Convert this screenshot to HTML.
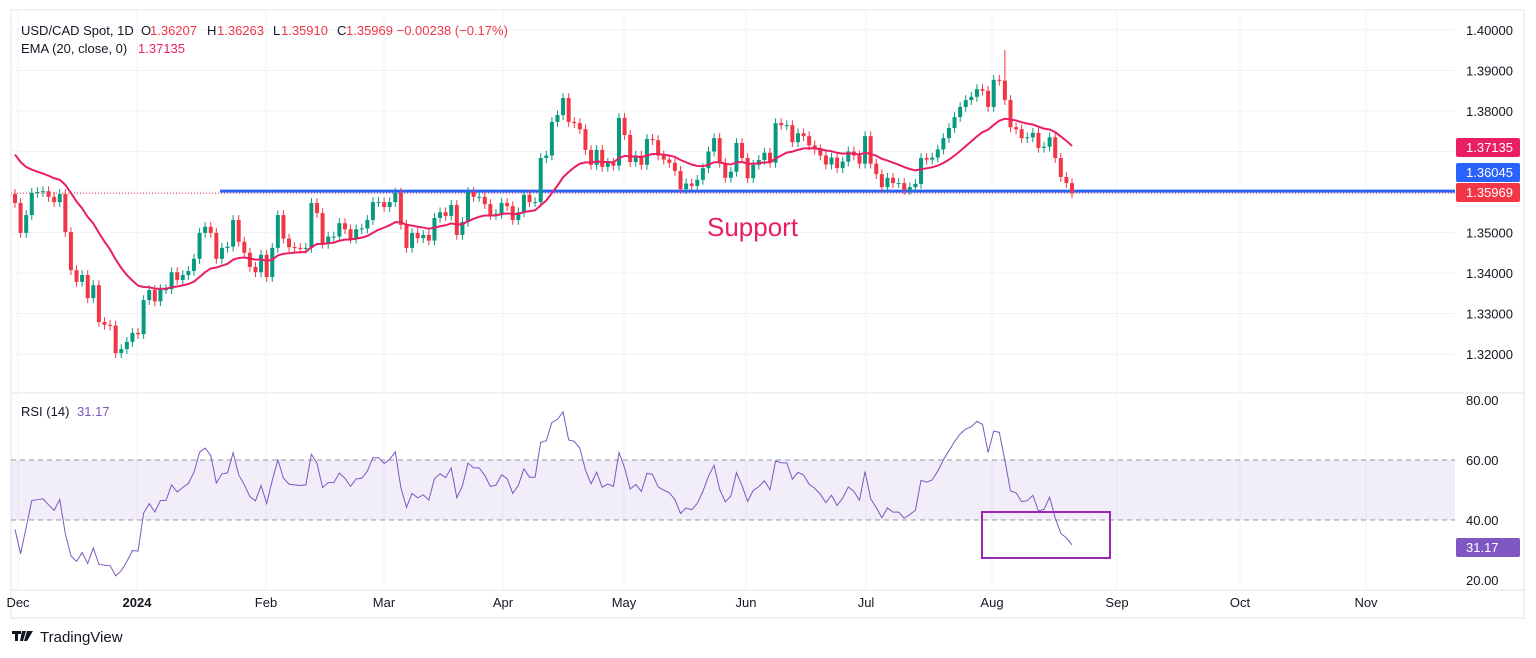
<!DOCTYPE html>
<html><head><meta charset="utf-8"><style>
body{margin:0;background:#fff;font-family:"Liberation Sans",sans-serif}
svg{display:block}
</style></head><body>
<svg id="c" width="1536" height="658" xmlns="http://www.w3.org/2000/svg"></svg>
<script>
const closes=[1.3573,1.3499,1.3543,1.3598,1.3600,1.3602,1.3588,1.3575,1.3595,1.3501,
1.3407,1.3378,1.3395,1.3338,1.3370,1.3279,1.3272,1.3270,1.3202,1.3212,
1.3230,1.3252,1.3249,1.3333,1.3358,1.3330,1.3360,1.3360,1.3402,1.3383,
1.3395,1.3405,1.3435,1.3499,1.3514,1.3499,1.3435,1.3462,1.3465,1.3531,
1.3477,1.3450,1.3415,1.3402,1.3445,1.3390,1.3462,1.3543,1.3485,1.3464,
1.3462,1.3460,1.3462,1.3573,1.3548,1.3472,1.3490,1.3490,1.3523,1.3508,
1.3485,1.3508,1.3510,1.3531,1.3575,1.3575,
1.3563,1.3575,1.3598,1.3519,1.3462,1.3499,1.3486,1.3494,1.3480,1.3536,
1.3550,1.3541,1.3568,1.3494,1.3526,1.3600,1.3588,1.3588,1.3570,1.3543,
1.3546,1.3573,1.3565,1.3531,1.3550,1.3593,1.3575,1.3575,1.3684,1.3690,
1.3773,1.3790,1.3832,1.3773,1.3770,1.3755,1.3704,1.3667,1.3704,1.3662,
1.3672,1.3665,1.3783,1.3741,1.3674,1.3690,1.3667,1.3731,1.3728,1.3690,
1.3680,1.3672,1.3652,1.3607,1.3621,1.3615,1.3630,1.3659,1.3700,1.3733,
1.3672,1.3635,1.3650,1.3721,1.3684,1.3634,1.3667,1.3679,1.3697,1.3672,1.3770,
1.3765,1.3765,1.3723,1.3745,1.3738,1.3715,1.3705,1.3690,1.3668,1.3685,
1.3659,1.3675,1.3700,1.3690,1.3670,1.3738,1.3670,1.3644,1.3612,1.3635,
1.3622,1.3622,1.3605,1.3612,1.3620,1.3684,1.3680,1.3685,1.3705,1.3733,
1.3758,1.3785,1.3810,1.3827,1.3835,1.3854,1.3850,1.3810,1.3877,1.3875,
1.3827,1.3760,1.3755,1.3733,1.3735,1.3746,1.3709,1.3712,1.3735,1.3684,
1.3637,1.3622,1.3597];
const firstOpen=1.3595;
const spikeHigh={index:177,value:1.3951};
const priceTicks=["1.40000","1.39000","1.38000","1.37000","1.36000","1.35000","1.34000","1.33000","1.32000"];
const rsiTicks=["80.00","60.00","40.00","20.00"];
const monthLabels=["Dec","2024","Feb","Mar","Apr","May","Jun","Jul","Aug","Sep","Oct","Nov"];
const monthX=[18,137,266,384,503,624,746,866,992,1117,1240,1366];
const emaSeed=1.3705, supportLevel=1.36045, emaLast=1.37135, lastClose=1.35969, rsiLast=31.17;

const NS="http://www.w3.org/2000/svg",svg=document.getElementById('c');
function el(t,a,p){const e=document.createElementNS(NS,t);for(const k in a)e.setAttribute(k,a[k]);(p||svg).appendChild(e);return e;}
const yP=p=>30+(1.40-p)*4050;
const yR=v=>400+(80-v)*3;
const n=closes.length,x0=15,x1=1072,step=(x1-x0)/(n-1);
const xI=i=>x0+i*step;
const L=11,R=1455;
const fr=el('rect',{x:11,y:10,width:1513,height:608,fill:'none',stroke:'#e0e3eb'});


el('line',{x1:L,x2:1524,y1:393,y2:393,stroke:'#e0e3eb'});
el('line',{x1:L,x2:1524,y1:590,y2:590,stroke:'#e0e3eb'});
monthX.forEach(x=>{el('line',{x1:x,x2:x,y1:10,y2:393,stroke:'#f0f3fa'});el('line',{x1:x,x2:x,y1:393,y2:590,stroke:'#f0f3fa'});});
priceTicks.forEach(t=>{const y=yP(+t);el('line',{x1:L,x2:R,y1:y,y2:y,stroke:'#f0f3fa'});
 const tx=el('text',{x:1466,y:y+5,'font-size':13,fill:'#131722'});tx.textContent=t;
 
 });
const band=el('rect',{x:L,y:yR(60),width:R-L,height:yR(40)-yR(60),fill:'rgba(126,87,194,0.1)'});


[60,40].forEach(v=>el('line',{x1:L,x2:R,y1:yR(v),y2:yR(v),stroke:'#9598a1','stroke-dasharray':'5,4'}));
rsiTicks.forEach(t=>{const tx=el('text',{x:1466,y:yR(+t)+5,'font-size':13,fill:'#131722'});tx.textContent=t;
 
 });
monthLabels.forEach((m,i)=>{const tx=el('text',{x:monthX[i],y:607,'font-size':13,fill:'#131722','text-anchor':'middle','font-weight':m==='2024'?'bold':'normal'});tx.textContent=m;
 
 });
el('line',{x1:L,x2:R,y1:yP(lastClose),y2:yP(lastClose),stroke:'#f23645','stroke-dasharray':'1,2'});
const sup=el('line',{x1:220,x2:R,y1:yP(supportLevel)+1,y2:yP(supportLevel)+1,stroke:'#2962ff','stroke-width':3});


const st=el('text',{x:707,y:236,'font-size':26,fill:'#e91e63'});st.textContent='Support';


const g=el('g',{});
for(let i=0;i<n;i++){const o=i?closes[i-1]:firstOpen,c=closes[i];const up=c>=o;const col=up?'#089981':'#f23645';
 let hi=Math.max(o,c)+0.0012,lo=Math.min(o,c)-0.0012;if(i===spikeHigh.index)hi=spikeHigh.value;
 const x=xI(i);
 el('line',{x1:x,x2:x,y1:yP(hi),y2:yP(lo),stroke:col,'stroke-width':1},g);
 const yt=yP(Math.max(o,c)),h=Math.max(1,yP(Math.min(o,c))-yt);
 const b=el('rect',{x:x-2,y:yt,width:4,height:h,fill:col},g);
 
 }
let e=emaSeed,pts=[];const a=2/21;
for(let i=0;i<n;i++){e=e+a*(closes[i]-e);pts.push(xI(i)+','+yP(e));}
const em=el('polyline',{points:pts.join(' '),fill:'none',stroke:'#e91e63','stroke-width':2});


let ag=0.0008,al=0.0012,rp=[];
for(let i=0;i<n;i++){const o=i?closes[i-1]:firstOpen,d=closes[i]-o;ag=(ag*13+Math.max(d,0))/14;al=(al*13+Math.max(-d,0))/14;
 const r=100-100/(1+ag/al);rp.push(xI(i)+','+yR(r));}
const rl=el('polyline',{points:rp.join(' '),fill:'none',stroke:'#7e57c2','stroke-width':1});


const box=el('rect',{x:982,y:512,width:128,height:46,fill:'none',stroke:'#9c27b0','stroke-width':2});


function tag(v,y,col,name){const r=el('rect',{x:1456,y:y-9,width:64,height:19,rx:2,fill:col});
 
 
 const t=el('text',{x:1466,y:y+5,'font-size':13,fill:'#fff'});t.textContent=v;}
tag(emaLast.toFixed(5),yP(emaLast)+1,'#e91e63','ema-price-tag');
tag(supportLevel.toFixed(5),172,'#2962ff','support-price-tag');
tag(lastClose.toFixed(5),192,'#f23645','close-price-tag');
tag(rsiLast.toFixed(2),547,'#7e57c2','rsi-value-tag');
function txt(x,y,s,col,name,size){const t=el('text',{x:x,y:y,'font-size':size||13,fill:col});t.textContent=s;
 
 return t;}
txt(21,35,'USD/CAD Spot, 1D','#131722','legend-symbol');
txt(141,35,'O','#131722','legend-o');txt(150,35,'1.36207','#f23645','legend-open');
txt(207,35,'H','#131722','legend-h');txt(217,35,'1.36263','#f23645','legend-high');
txt(273,35,'L','#131722','legend-l');txt(281,35,'1.35910','#f23645','legend-low');
txt(337,35,'C','#131722','legend-c');txt(346,35,'1.35969  \u22120.00238 (\u22120.17%)','#f23645','legend-close');
txt(21,53,'EMA (20, close, 0)','#131722','ema-legend');txt(138,53,'1.37135','#e91e63','ema-legend-value');
txt(21,416,'RSI (14)','#131722','rsi-legend');txt(77,416,'31.17','#7e57c2','rsi-legend-value');
const lg=el('g',{});
el('path',{d:'M12 631h9v3h-3v7h-3v-7h-3z M22 631h4l-3 10h-3z M27 631h6l-6 10h-3z',fill:'#131722'},lg);
const ft=el('text',{x:40,y:642,'font-size':15,fill:'#131722'},lg);ft.textContent='TradingView';
</script>
</body></html>
